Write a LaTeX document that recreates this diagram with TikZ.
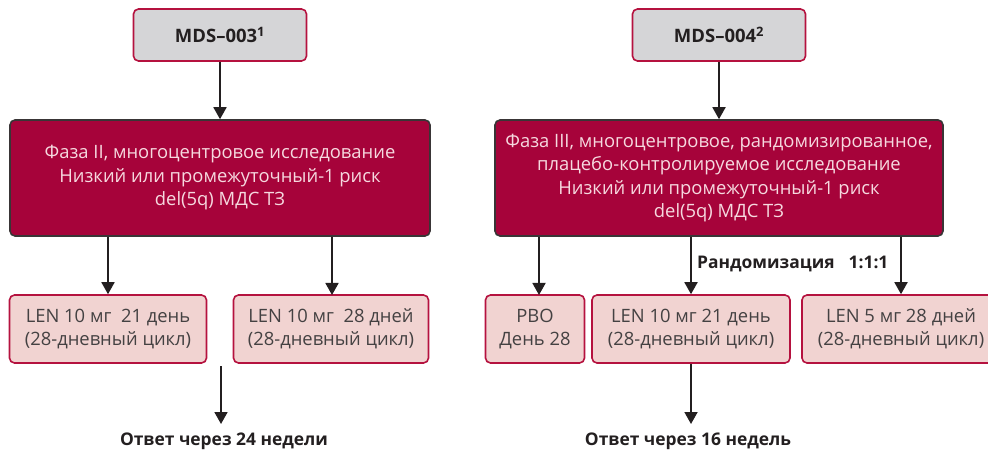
\documentclass[tikz,border=0pt]{standalone}
\usepackage{fontspec}
\setmainfont{Open Sans}
\usetikzlibrary{arrows.meta}
\definecolor{crim}{HTML}{A6033A}
\definecolor{crimB}{HTML}{B5123F}
\definecolor{mdsgray}{HTML}{D5D5D7}
\definecolor{pinkbox}{HTML}{F1D3D1}
\definecolor{ink}{HTML}{231F20}
\definecolor{lighttxt}{HTML}{F6D9DF}
\tikzset{
  studybox/.style={draw=crimB, line width=1.6pt, fill=mdsgray, rounded corners=5pt,
    font=\bfseries\fontsize{18.5}{22}\selectfont, text=ink, minimum width=173pt,
    minimum height=52pt, inner sep=0pt},
  phasebox/.style={draw=ink!90, line width=1.6pt, fill=crim, rounded corners=5pt,
    text=lighttxt, font=\fontsize{18.4}{23.5}\selectfont, align=center,
    minimum height=116pt, inner sep=0pt},
  armbox/.style={draw=crimB, line width=1.6pt, fill=pinkbox, rounded corners=5pt,
    text=ink!85, font=\fontsize{18.4}{23}\selectfont, align=center,
    minimum height=68pt, inner sep=0pt},
  arr/.style={draw=ink, line width=1.8pt, -{Triangle[width=13pt,length=12pt]}},
  outtxt/.style={text=ink, font=\bfseries\fontsize{17.4}{20}\selectfont, inner sep=0pt},
  randtxt/.style={text=ink, font=\bfseries\fontsize{17.4}{20}\selectfont, inner sep=0pt, anchor=west}
}
\begin{document}
\begin{tikzpicture}[x=1pt,y=-1pt]
\useasboundingbox (0,0) rectangle (988,454);
\clip (0,0) rectangle (988,454);
% study headers
\node[studybox] (mds3) at (220,35) {MDS–003\textsuperscript{1}};
\node[studybox] (mds4) at (719,35) {MDS–004\textsuperscript{2}};
% phase boxes
\node[phasebox, minimum width=420pt] (ph2) at (220,178)
  {Фаза II, многоцентровое исследование\\Низкий или промежуточный-1 риск\\del(5q) МДС ТЗ};
\node[phasebox, minimum width=448pt] (ph3) at (719,178)
  {Фаза III, многоцентровое, рандомизированное,\\плацебо-контролируемое исследование\\Низкий или промежуточный-1 риск\\del(5q) МДС ТЗ};
% arm boxes
\node[armbox, minimum width=197pt] (a1) at (108,329) {LEN 10 мг\ \ 21 день\\(28-дневный цикл)};
\node[armbox, minimum width=195pt] (a2) at (331,329) {LEN 10 мг\ \ 28 дней\\(28-дневный цикл)};
\node[armbox, minimum width=99pt] (b1) at (535,329) {PBO\\День 28};
\node[armbox, minimum width=198pt] (b2) at (691,329) {LEN 10 мг 21 день\\(28-дневный цикл)};
\node[armbox, minimum width=198pt] (b3) at (901,329) {LEN 5 мг 28 дней\\(28-дневный цикл)};
% outcome texts
\node[outtxt] (o1) at (224,441) {Ответ через 24 недели};
\node[outtxt] (o2) at (688,441) {Ответ через 16 недель};
\coordinate (s1) at (221,366);
\coordinate (t1) at (221,424);
\coordinate (t2) at (691,424);
\coordinate (e2) at (332,295);
\coordinate (e3) at (539,295);
% connectors
\draw[arr] (mds3) -- (ph2);
\draw[arr] (mds4) -- (ph3);
\draw[arr] (ph2.south -| a1.north) -- (a1.north);
\draw[arr] (ph2.south -| e2) -- (e2);
\draw[arr] (ph3.south -| e3) -- (e3);
\draw[arr] (ph3.south -| b2.north) -- (b2.north);
\draw[arr] (ph3.south -| b3.north) -- (b3.north);
\draw[arr] (s1) -- (t1);
\draw[arr] (b2.south) -- (t2);
\node[randtxt] (rand) at (697,264) {Рандомизация\hspace{14pt}1:1:1};
\end{tikzpicture}
\end{document}
